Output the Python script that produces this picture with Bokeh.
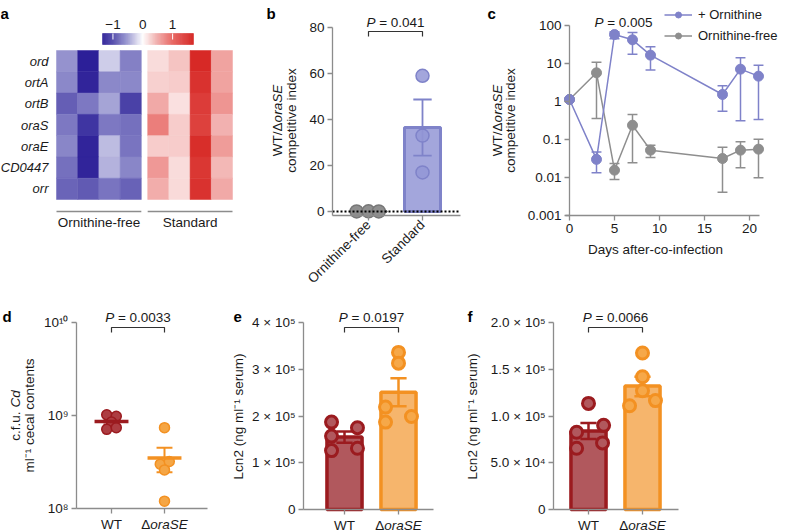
import numpy as np
from math import pi
from bokeh.plotting import figure
from bokeh.models import (Range1d, FixedTicker, Label, LinearColorMapper, Legend,
                          LegendItem, ColumnDataSource)
from bokeh.layouts import row, column
from bokeh.embed import file_html
from bokeh.resources import INLINE

FONT = "Liberation Sans"
TXT = "#1a1a1a"
AXC = "#8c8c8c"
FSN = 13.5
FS = f"{FSN}px"

# ---------------- data ----------------
# panel a
genes = ["ord", "ortA", "ortB", "oraS", "oraE", "CD0447", "orr"]
groups_a = ["Ornithine-free", "Standard"]
heat_free = [
    [-0.55, -1.40, -0.25, -0.65],
    [-0.60, -1.30, -0.60, -0.60],
    [-0.85, -0.70, -0.45, -1.05],
    [-0.70, -1.15, -0.70, -0.75],
    [-0.62, -1.30, -0.33, -0.72],
    [-0.75, -1.30, -0.38, -0.62],
    [-0.82, -0.88, -0.72, -0.83],
]
heat_std = [
    [0.20, 0.35, 1.60, 0.55],
    [0.28, 0.30, 1.50, 0.55],
    [0.50, 0.18, 1.40, 0.65],
    [0.80, 0.30, 1.35, 0.45],
    [0.30, 0.30, 1.55, 0.60],
    [0.62, 0.20, 1.45, 0.42],
    [0.48, 0.22, 1.50, 0.50],
]
cb_ticks = [-1, 0, 1]
cb_labels = ["\u22121", "0", "1"]

# panel b
b_groups = ["Ornithine-free", "Standard"]
b_free_pts = [0.04, 0.06, 0.03]
b_std_pts = [59, 33, 17]
b_mean = [0.04, 36.5]
b_lo = [0.03, 24.3]
b_hi = [0.05, 48.7]
b_yticks = [0, 20, 40, 60, 80]

# panel c
c_days = [0, 3, 5, 7, 9, 17, 19, 21]
c_orn = [1.13, 0.030, 58, 42, 16.6, 1.53, 7.1, 4.64]
c_orn_lo = [1.13, 0.0133, 45, 17.6, 6.7, 0.557, 0.31, 0.336]
c_orn_hi = [1.13, 0.047, 68, 65.5, 27.5, 2.6, 14.1, 9.04]
c_free = [1.13, 5.68, 0.0156, 0.238, 0.0524, 0.0316, 0.0524, 0.0557]
c_free_lo = [1.13, 0.357, 0.00886, 0.0243, 0.0336, 0.0041, 0.018, 0.0098]
c_free_hi = [1.13, 10.8, 0.0234, 0.455, 0.071, 0.0628, 0.0869, 0.102]
c_yticks = [0.001, 0.01, 0.1, 1, 10, 100]
c_ylabels = ["0.001", "0.01", "0.1", "1", "10", "100"]
c_xticks = [0, 5, 10, 15, 20]
c_series = ["+ Ornithine", "Ornithine-free"]

# panel d
d_wt = [1.02e9, 0.98e9, 0.85e9, 0.71e9, 0.74e9]
d_ko = [0.74e9, 0.30e9, 0.32e9, 0.26e9, 0.12e9]
d_mean = [0.86e9, 0.35e9]
d_lo = [0.80e9, 0.245e9]
d_hi = [0.92e9, 0.45e9]
d_yticks = [1e8, 1e9, 1e10]
d_ylabels = ["10\u2078", "10\u2079", "10\u00b9\u2070"]

# panel e
e_wt = [1.87e5, 1.75e5, 1.57e5, 1.26e5, 1.31e5]
e_ko = [3.36e5, 3.13e5, 2.19e5, 1.87e5, 1.99e5]
e_mean = [1.55e5, 2.51e5]
e_lo = [1.43e5, 2.21e5]
e_hi = [1.67e5, 2.81e5]
e_yticks = [0, 1e5, 2e5, 3e5, 4e5]
e_ylabels = ["0", "1 \u00d7 10\u2075", "2 \u00d7 10\u2075", "3 \u00d7 10\u2075", "4 \u00d7 10\u2075"]

# panel f
f_wt = [1.135e5, 9.0e4, 8.26e4, 7.12e4, 6.55e4]
f_ko = [1.674e5, 1.42e5, 1.27e5, 1.11e5, 1.165e5]
f_mean = [8.4e4, 1.32e5]
f_lo = [7.55e4, 1.21e5]
f_hi = [9.25e4, 1.42e5]
f_yticks = [0, 5e4, 1e5, 1.5e5, 2e5]
f_ylabels = ["0", "5.0 \u00d7 10\u2074", "1.0 \u00d7 10\u2075", "1.5 \u00d7 10\u2075", "2.0 \u00d7 10\u2075"]

strain_labels = ["WT", "\u0394oraSE"]

# jitter of the points (screen layout only)
b_free_jit = [-0.22, 0.0, 0.19]
d_wt_jit = [-0.09, 0.09, 0.0, -0.09, 0.09]
d_ko_jit = [0.0, -0.08, 0.09, 0.0, 0.0]
e_wt_jit = [-0.24, 0.24, -0.24, -0.24, 0.24]
e_ko_jit = [0.0, 0.0, -0.24, -0.24, 0.24]
f_wt_jit = [0.0, 0.28, -0.22, 0.26, -0.22]
f_ko_jit = [0.0, 0.0, 0.0, -0.24, 0.24]

# ---------------- helpers ----------------
AW = {'W': .944, 'T': .611, '/': .278, '\u0394': .668, 'o': .556, 'r': .333, 'a': .556,
      'S': .667, 'E': .667, 'P': .667, ' ': .278, '=': .584, '.': .278, 'c': .5,
      'f': .278, 'u': .556, 'C': .722, 'd': .556}


def tw(s, fs=FSN):
    return fs * sum(AW.get(ch, .556) for ch in s)


class Panel:
    """Figure whose frame fills its canvas; px are page pixels."""

    def __init__(self, canvas, xa, ya, logy=False):
        cl, ct, cr, cb = canvas
        (xv1, xp1), (xv2, xp2) = xa
        self.kx = (xp2 - xp1) / (xv2 - xv1)
        self.xv1, self.xp1 = xv1, xp1
        self.logy = logy
        f = np.log10 if logy else (lambda v: v)
        self.f = f
        (yv1, yp1), (yv2, yp2) = ya
        self.ky = (yp2 - yp1) / (f(yv2) - f(yv1))
        self.yv1, self.yp1 = f(yv1), yp1
        self.fig = figure(width=cr - cl, height=cb - ct,
                          x_range=Range1d(self.x(cl), self.x(cr)),
                          y_range=Range1d(self.y(cb), self.y(ct)),
                          y_axis_type="log" if logy else "linear",
                          output_backend="svg", toolbar_location=None,
                          min_border_left=0, min_border_right=0,
                          min_border_top=0, min_border_bottom=0)
        p = self.fig
        p.xgrid.visible = False
        p.ygrid.visible = False
        p.outline_line_color = None
        for ax in list(p.xaxis) + list(p.yaxis):
            ax.axis_line_color = AXC
            ax.axis_line_width = 1.3
            ax.major_tick_line_color = AXC
            ax.major_tick_line_width = 1.3
            ax.major_tick_out = 5
            ax.major_tick_in = 0
            ax.minor_tick_line_color = None
            ax.major_label_text_font = FONT
            ax.major_label_text_font_size = FS
            ax.major_label_text_color = TXT
            ax.major_label_standoff = 3

    def x(self, px):
        return self.xv1 + (px - self.xp1) / self.kx

    def xp(self, v):
        return self.xp1 + (v - self.xv1) * self.kx

    def y(self, py):
        v = self.yv1 + (py - self.yp1) / self.ky
        return 10 ** v if self.logy else v

    def yp(self, v):
        return self.yp1 + (self.f(v) - self.yv1) * self.ky

    def axes(self, yaxis_px, xaxis_py, ybounds, xbounds_px):
        p = self.fig
        p.yaxis.fixed_location = self.x(yaxis_px)
        p.xaxis.fixed_location = self.y(xaxis_py)
        p.yaxis.bounds = ybounds
        p.xaxis.bounds = (self.x(xbounds_px[0]), self.x(xbounds_px[1]))


def lab(pn, text, px, py, align="center", baseline="middle", angle=0.0,
        style="normal", size=FS, color=TXT):
    pn.fig.add_layout(Label(x=pn.x(px), y=pn.y(py), text=text, text_align=align,
                            text_baseline=baseline, angle=angle, text_font=FONT,
                            text_font_style=style, text_font_size=size, text_color=color))


def mixed(pn, parts, cx, cy, angle=0.0, fs=FSN, baseline="middle"):
    total = sum(tw(t, fs) for t, _ in parts)
    pos = -total / 2
    for t, style in parts:
        if t.strip():
            if angle == 0:
                lab(pn, t, cx + pos, cy, align="left", baseline=baseline, style=style,
                    size=f"{fs}px")
            else:
                lab(pn, t, cx, cy - pos, align="left", baseline=baseline, angle=angle,
                    style=style, size=f"{fs}px")
        pos += tw(t, fs)


def pval(pn, x1, x2, text, py_text=317, py_top=327, py_bot=332, bracket=True):
    if bracket:
        yt, yb = pn.y(py_top), pn.y(py_bot)
        pn.fig.line(x=[x1, x1, x2, x2], y=[yb, yt, yt, yb], line_color="#333333",
                    line_width=1.2)
    cx = pn.xp((x1 + x2) / 2)
    mixed(pn, [("P", "italic"), (" ", "normal"), ("= " + text, "normal")], cx, py_text)


def letter(pn, t, px, py):
    lab(pn, t, px, py, align="left", baseline="alphabetic", style="bold", size="15px",
        color="black")


def errbars(p, xs, lo, hi, half, color, width):
    p.segment(x0=xs, y0=lo, x1=xs, y1=hi, line_color=color, line_width=width)
    p.segment(x0=[x - half for x in xs], y0=hi, x1=[x + half for x in xs], y1=hi,
              line_color=color, line_width=width)
    p.segment(x0=[x - half for x in xs], y0=lo, x1=[x + half for x in xs], y1=lo,
              line_color=color, line_width=width)


def strain_axis(pn, axis_py):
    p = pn.fig
    p.xaxis.ticker = FixedTicker(ticks=[1, 2])
    p.xaxis.major_label_overrides = {1: strain_labels[0], 2: ""}
    # "ΔoraSE": upright delta, italic gene name
    mixed(pn, [(strain_labels[1][0], "normal"), (strain_labels[1][1:], "italic")],
          pn.xp(2), axis_py + 8, baseline="top")


# ---------------- panel a ----------------
pa = Panel((0, 0, 264, 286), ((0, 56), (8.3, 232)), ((0, 199), (7, 50)))
p = pa.fig
gap = 0.3
anchors = [(-1.35, (0x2c, 0x1f, 0x98)), (-1.0, (0x4f, 0x47, 0xaa)), (-0.5, (0x9c, 0x9a, 0xd2)),
           (0.0, (0xff, 0xff, 0xff)), (0.5, (0xf1, 0xaa, 0xa8)), (1.0, (0xe7, 0x62, 0x5e)),
           (1.7, (0xd4, 0x20, 0x1d))]
pal = []
for v in np.linspace(-1.35, 1.7, 256):
    for (a0, c0), (a1, c1) in zip(anchors[:-1], anchors[1:]):
        if a0 <= v <= a1 + 1e-9:
            t = (v - a0) / (a1 - a0)
            pal.append("#%02x%02x%02x" % tuple(int(round(c0[k] + t * (c1[k] - c0[k])))
                                               for k in range(3)))
            break
mapper = LinearColorMapper(palette=pal, low=-1.35, high=1.7)
hx, hy, hz = [], [], []
for gi, g in enumerate(genes):
    for j in range(4):
        hx.append(j + 0.5); hy.append(6.5 - gi); hz.append(heat_free[gi][j])
        hx.append(4 + gap + j + 0.5); hy.append(6.5 - gi); hz.append(heat_std[gi][j])
p.rect(x="x", y="y", width=1.0, height=1.0, source=ColumnDataSource(dict(x=hx, y=hy, z=hz)),
       fill_color={"field": "z", "transform": mapper},
       line_color={"field": "z", "transform": mapper}, line_width=0.5)
p.xaxis.visible = False
ya = p.yaxis[0]
ya.fixed_location = 0
ya.ticker = FixedTicker(ticks=[6.5 - i for i in range(len(genes))])
ya.major_label_overrides = {6.5 - i: g for i, g in enumerate(genes)}
ya.axis_line_color = None
ya.major_tick_line_color = None
ya.major_label_text_font_style = "italic"
ya.major_label_text_font_size = "13px"
ya.major_label_standoff = 3
# colour bar on its own value range
kcb = (193 - 102) / (1.7 + 1.35)
p.extra_x_ranges = {"cb": Range1d(-1.35 + (0 - 102) / kcb, -1.35 + (264 - 102) / kcb)}
cbv = np.linspace(-1.35, 1.7, 121)
cbs = ColumnDataSource(dict(l=cbv[:-1], r=cbv[1:], v=(cbv[:-1] + cbv[1:]) / 2))
p.quad(left="l", right="r", bottom=pa.y(44), top=pa.y(33), source=cbs, x_range_name="cb",
       fill_color={"field": "v", "transform": mapper},
       line_color={"field": "v", "transform": mapper}, line_width=0.4)
p.segment(x0=[-1, 1], x1=[-1, 1], y0=pa.y(33), y1=pa.y(39), x_range_name="cb",
          line_color="white", line_width=1)
for t, s in zip(cb_ticks, cb_labels):
    lab(pa, s, 102 + (t + 1.35) * kcb, 24)
# group brackets
p.segment(x0=[0, 4 + gap], x1=[4, 8 + gap], y0=pa.y(211), y1=pa.y(211),
          line_color=AXC, line_width=1.5)
lab(pa, groups_a[0], pa.xp(2), 222)
lab(pa, groups_a[1], pa.xp(6 + gap), 222)
letter(pa, "a", 0, 13)

# ---------------- panel b ----------------
pb = Panel((264, 0, 470, 286), ((1, 368), (2, 422)), ((0, 211), (80, 27)))
p = pb.fig
BPUR_F, BPUR_L = "#a3a6dc", "#7f83c9"
BGRY_F, BGRY_L = "#8f8f8f", "#777777"
p.vbar(x=[1, 2], top=b_mean, width=0.667, fill_color=[BGRY_F, BPUR_F],
       line_color=[BGRY_L, BPUR_L], line_width=3)
errbars(p, [1, 2], b_lo, b_hi, 0.17, BPUR_L, 1.8)
p.scatter(x=[1 + j for j in b_free_jit], y=b_free_pts, size=13, fill_color=BGRY_F,
          line_color=BGRY_L, line_width=1.5)
p.scatter(x=[2] * 3, y=b_std_pts, size=13, fill_color="#9396d6", line_color=BPUR_L,
          line_width=1.5, fill_alpha=0.85)
p.line(x=[pb.x(332), pb.x(460)], y=[0, 0], line_color="black", line_dash="2 2",
       line_width=2)
pb.axes(332, 215, (pb.y(215), 80), (332, 460))
p.yaxis.ticker = FixedTicker(ticks=b_yticks)
p.xaxis.ticker = FixedTicker(ticks=[1, 2])
p.xaxis.major_label_overrides = {1: b_groups[0], 2: b_groups[1]}
p.xaxis.major_label_orientation = pi / 4
p.xaxis.major_label_standoff = 2
pval(pb, 1, 2, "0.041", py_text=22, py_top=31, py_bot=36)
mixed(pb, [("WT/\u0394", "normal"), ("oraSE", "italic")], 277, 120, angle=pi / 2)
lab(pb, "competitive index", 291, 120, angle=pi / 2)
letter(pb, "b", 266, 13)

# ---------------- panel c ----------------
pc = Panel((470, 0, 784, 286), ((0, 569), (20, 749)), ((0.001, 215), (100, 25)), logy=True)
p = pc.fig
PUR, GRY = "#7f82c9", "#8e8e8e"
errbars(p, c_days[1:], c_free_lo[1:], c_free_hi[1:], 0.55, GRY, 1.5)
errbars(p, c_days[1:], c_orn_lo[1:], c_orn_hi[1:], 0.55, PUR, 1.5)
l2 = p.line(c_days, c_free, line_color=GRY, line_width=1.5)
s2 = p.scatter(c_days, c_free, size=10, fill_color=GRY, line_color=GRY)
l1 = p.line(c_days, c_orn, line_color=PUR, line_width=1.5)
s1 = p.scatter(c_days, c_orn, size=10, fill_color=PUR, line_color=PUR)
pc.axes(569, 215, (0.001, 100), (565, 759))
p.yaxis.ticker = FixedTicker(ticks=c_yticks)
p.yaxis.major_label_overrides = {t: s for t, s in zip(c_yticks, c_ylabels)}
p.xaxis.ticker = FixedTicker(ticks=c_xticks)
leg = Legend(items=[LegendItem(label=c_series[0], renderers=[l1, s1]),
                    LegendItem(label=c_series[1], renderers=[l2, s2])],
             location=(194, 243), orientation="vertical", glyph_width=28, glyph_height=15,
             label_height=15, label_standoff=6, spacing=6, padding=0, margin=0,
             border_line_color=None, background_fill_alpha=0,
             label_text_font=FONT, label_text_font_size="13px", label_text_color=TXT)
p.add_layout(leg)
mixed(pc, [("P", "italic"), (" ", "normal"), ("= 0.005", "normal")], 623, 22)
lab(pc, "Days after-co-infection", 655, 249)
mixed(pc, [("WT/\u0394", "normal"), ("oraSE", "italic")], 497, 120, angle=pi / 2)
lab(pc, "competitive index", 510, 120, angle=pi / 2)
letter(pc, "c", 487, 13)

# ---------------- panel d ----------------
WT_D, WT_F = "#9b1b1f", "#ad3d42"
KO_D, KO_F = "#f39122", "#f5a645"
pd_ = Panel((0, 286, 230, 531), ((1, 111), (2, 164)), ((1e8, 508), (1e10, 322)), logy=True)
p = pd_.fig
errbars(p, [1], [d_lo[0]], [d_hi[0]], 0.15, WT_D, 2)
errbars(p, [2], [d_lo[1]], [d_hi[1]], 0.15, KO_D, 2)
p.scatter([1 + j for j in d_wt_jit], d_wt, size=10, fill_color=WT_F, line_color=WT_D,
          line_width=1.5)
p.scatter([2 + j for j in d_ko_jit], d_ko, size=10, fill_color=KO_F, line_color=KO_D,
          line_width=1.5)
p.segment(x0=[0.68], x1=[1.32], y0=[d_mean[0]], y1=[d_mean[0]], line_color=WT_D, line_width=3.5)
p.segment(x0=[1.68], x1=[2.32], y0=[d_mean[1]], y1=[d_mean[1]], line_color=KO_D, line_width=3.5)
pd_.axes(76, 508, (1e8, 1e10), (76, 207))
p.yaxis.ticker = FixedTicker(ticks=d_yticks)
p.yaxis.major_label_overrides = {t: s for t, s in zip(d_yticks, d_ylabels)}
strain_axis(pd_, 508)
pval(pd_, 1, 2, "0.0033")
mixed(pd_, [("c.f.u. ", "normal"), ("Cd", "italic")], 15, 415, angle=pi / 2)
lab(pd_, "ml\u207b\u00b9 cecal contents", 29, 415, angle=pi / 2)
letter(pd_, "d", 2, 316)


def barpanel(pn, wt, ko, mean, lo, hi, wj, kj, yticks, ylabels, top, ptxt, yaxis_px, xend_px):
    p = pn.fig
    p.vbar(x=[1, 2], top=mean, width=0.65, fill_color=["#b1585d", "#f6b56c"],
           line_color=[WT_D, KO_D], line_width=3.5)
    errbars(p, [1], [lo[0]], [hi[0]], 0.15, WT_D, 2.5)
    errbars(p, [2], [lo[1]], [hi[1]], 0.15, KO_D, 2.5)
    p.scatter([1 + j for j in wj], wt, size=12, fill_color="#b1585d", line_color=WT_D,
              line_width=3)
    p.scatter([2 + j for j in kj], ko, size=12, fill_color="#f6a849", line_color=KO_D,
              line_width=3)
    pn.axes(yaxis_px, 509, (0, top), (yaxis_px, xend_px))
    p.yaxis.ticker = FixedTicker(ticks=yticks)
    p.yaxis.major_label_overrides = {t: s for t, s in zip(yticks, ylabels)}
    strain_axis(pn, 509)
    pval(pn, 1, 2, ptxt)


# ---------------- panel e ----------------
pe = Panel((230, 286, 460, 531), ((1, 344), (2, 398)), ((0, 509), (4e5, 322)))
barpanel(pe, e_wt, e_ko, e_mean, e_lo, e_hi, e_wt_jit, e_ko_jit, e_yticks, e_ylabels, 4e5,
         "0.0197", 303, 433)
lab(pe, "Lcn2 (ng ml\u207b\u00b9 serum)", 238, 416, angle=pi / 2)
letter(pe, "e", 233, 316)

# ---------------- panel f ----------------
pf = Panel((460, 286, 784, 531), ((1, 588), (2, 642)), ((0, 509), (2e5, 322)))
barpanel(pf, f_wt, f_ko, f_mean, f_lo, f_hi, f_wt_jit, f_ko_jit, f_yticks, f_ylabels, 2e5,
         "0.0066", 553, 678)
lab(pf, "Lcn2 (ng ml\u207b\u00b9 serum)", 472, 416, angle=pi / 2)
letter(pf, "f", 467, 316)

layout = column(row(pa.fig, pb.fig, pc.fig), row(pd_.fig, pe.fig, pf.fig))
open("out.html", "w").write(file_html(layout, INLINE))
